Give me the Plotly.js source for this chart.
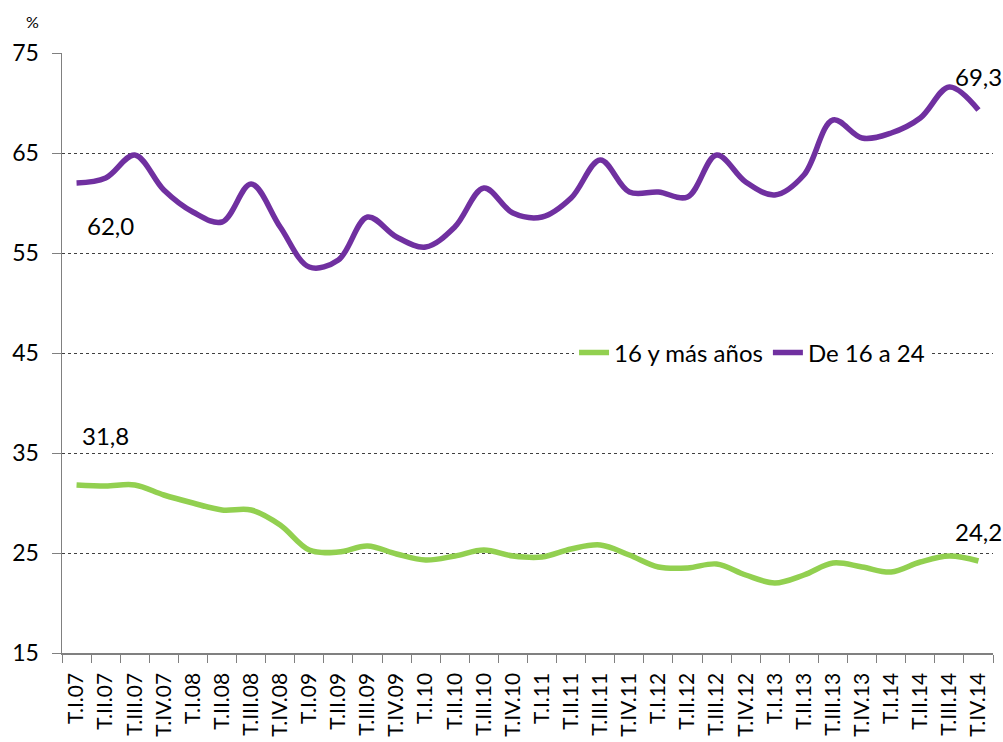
<!DOCTYPE html>
<html><head><meta charset="utf-8">
<script src="https://cdn.plot.ly/plotly-3.0.1.min.js"></script>
<style>html,body{margin:0;padding:0;background:#fff}#chart{width:1003px;height:742px}</style>
</head><body><div id="chart"></div>
<script>
const categories = [
  'T.I.07','T.II.07','T.III.07','T.IV.07',
  'T.I.08','T.II.08','T.III.08','T.IV.08',
  'T.I.09','T.II.09','T.III.09','T.IV.09',
  'T.I.10','T.II.10','T.III.10','T.IV.10',
  'T.I.11','T.II.11','T.III.11','T.IV.11',
  'T.I.12','T.II.12','T.III.12','T.IV.12',
  'T.I.13','T.II.13','T.III.13','T.IV.13',
  'T.I.14','T.II.14','T.III.14','T.IV.14'
];
const total16plus = [
  31.8, 31.7, 31.8, 30.8, 30.0, 29.3, 29.3, 27.8,
  25.3, 25.1, 25.7, 24.9, 24.3, 24.7, 25.3, 24.7,
  24.6, 25.4, 25.8, 24.8, 23.6, 23.5, 23.9, 22.8,
  22.0, 22.8, 24.0, 23.6, 23.1, 24.1, 24.7, 24.2
];
const young16to24 = [
  62.0, 62.5, 64.8, 61.3, 59.1, 58.1, 61.9, 57.6,
  53.6, 54.3, 58.6, 56.6, 55.6, 57.6, 61.5, 59.0,
  58.6, 60.5, 64.3, 61.1, 61.1, 60.6, 64.8, 62.1,
  60.8, 62.8, 68.3, 66.5, 67.0, 68.5, 71.6, 69.3
];
const seriesNames = ['16 y más años', 'De 16 a 24'];
const yTicks = [15, 25, 35, 45, 55, 65, 75];

const fmt = v => v.toFixed(1).replace('.', ',');
const last = categories.length - 1;
const labelFont = {family: 'Lato, "Open Sans", sans-serif', size: 24, color: '#000'};

const traces = [
  {x: categories, y: total16plus, name: seriesNames[0], type: 'scatter', mode: 'lines',
   line: {color: '#92D050', width: 5.5, shape: 'spline', smoothing: 1}, hoverinfo: 'skip'},
  {x: categories, y: young16to24, name: seriesNames[1], type: 'scatter', mode: 'lines',
   line: {color: '#7030A0', width: 5.5, shape: 'spline', smoothing: 1}, hoverinfo: 'skip'}
];

const annotations = [
  {x: categories[0], y: young16to24[0], text: fmt(young16to24[0]), xshift: 34, yshift: -42},
  {x: categories[0], y: total16plus[0], text: fmt(total16plus[0]), xshift: 29, yshift: 50},
  {x: categories[last], y: young16to24[last], text: fmt(young16to24[last]), xshift: 0, yshift: 34},
  {x: categories[last], y: total16plus[last], text: fmt(total16plus[last]), xshift: 0, yshift: 30},
  {xref: 'paper', yref: 'paper', x: -0.032, y: 1.052, text: '%', showarrow: false,
   font: {family: 'Lato, sans-serif', size: 16, color: '#000'}, xanchor: 'center', yanchor: 'middle'}
].map(a => Object.assign({showarrow: false, font: labelFont, xanchor: 'center', yanchor: 'middle'}, a));

const layout = {
  width: 1003, height: 742,
  margin: {l: 62, r: 10, t: 53, b: 89},
  paper_bgcolor: '#fff', plot_bgcolor: '#fff',
  showlegend: true,
  legend: {orientation: 'h', x: 0.55, y: 0.5, xanchor: 'left', yanchor: 'middle',
           bgcolor: '#fff', font: {family: 'Lato, sans-serif', size: 24, color: '#000'},
           itemwidth: 30, tracegroupgap: 0},
  xaxis: {
    type: 'category', range: [-0.5, last + 0.5],
    tickson: 'boundaries', ticks: 'outside', ticklen: 8, tickcolor: '#808080', tickwidth: 1,
    showline: true, linecolor: '#808080', linewidth: 1.5,
    showgrid: false, zeroline: false, tickangle: -90, ticklabelstandoff: 10,
    tickfont: {family: 'Lato, sans-serif', size: 21, color: '#000'}
  },
  yaxis: {
    range: [15, 75], tickvals: yTicks, ticktext: yTicks.map(String),
    ticks: 'outside', ticklen: 9, tickcolor: '#808080', tickwidth: 1,
    showline: true, linecolor: '#808080', linewidth: 1.5,
    showgrid: true, gridcolor: '#404040', griddash: 'dot', gridwidth: 1,
    zeroline: false, ticklabelstandoff: 8,
    tickfont: {family: 'Lato, "Open Sans", sans-serif', size: 23, color: '#000'}
  },
  annotations: annotations
};

Plotly.newPlot('chart', traces, layout, {displayModeBar: false, staticPlot: true});
</script>
</body></html>
